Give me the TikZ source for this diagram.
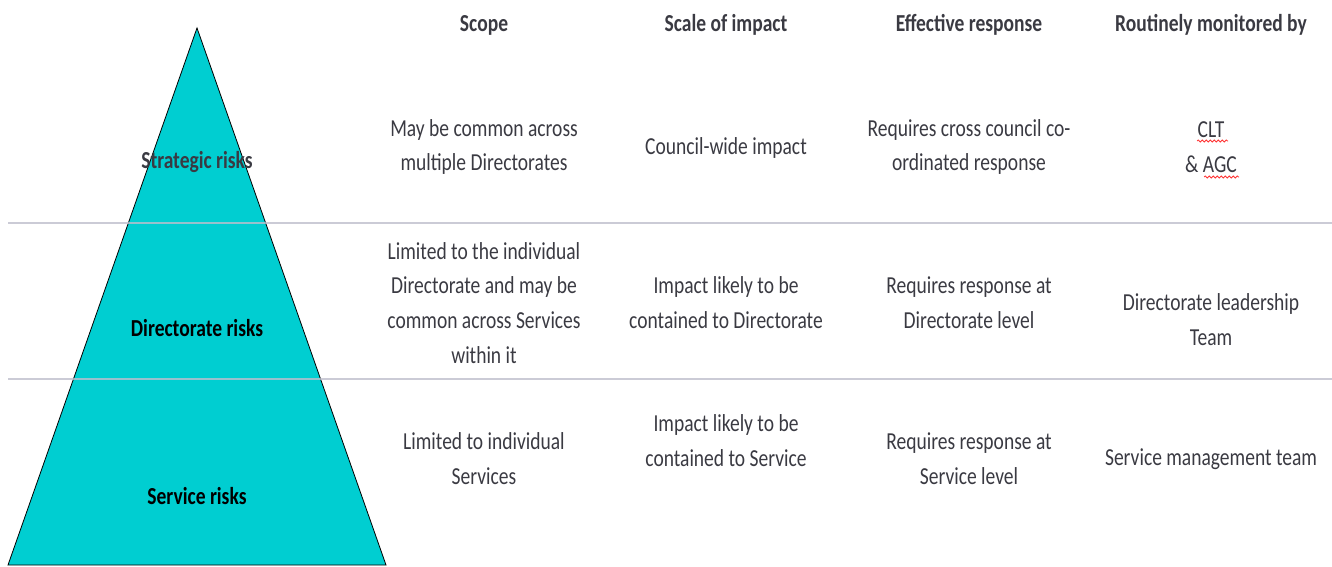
\documentclass[tikz,border=0pt]{standalone}
\usepackage{fontspec}
\setmainfont[FakeStretch=0.80]{Carlito}
\usetikzlibrary{decorations.pathmorphing}
\definecolor{turq}{RGB}{0,206,209}
\definecolor{txtgray}{RGB}{58,58,66}
\definecolor{rulegray}{RGB}{190,190,204}
\tikzset{
  txt/.style={align=center, inner sep=0pt, text=txtgray, font=\fontsize{24.4}{34.8}\selectfont},
  head/.style={txt, font=\fontsize{24.4}{34.8}\selectfont\bfseries},
  risk/.style={inner sep=0pt, font=\fontsize{24.4}{34.8}\selectfont\bfseries},
  sep/.style={draw=rulegray, line width=2pt, opacity=0.8},
  squig/.style={draw=red!80!white, line width=0.8pt, decorate, decoration={snake, amplitude=1pt, segment length=4pt}}
}
\begin{document}
\begin{tikzpicture}[x=1pt, y=-1pt]
\useasboundingbox (0,0) rectangle (1332,567);
% pyramid
\coordinate (apex) at (197,28);
\coordinate (bl) at (8,565);
\coordinate (br) at (386,565);
\fill[turq] (apex) -- (br) -- (bl) -- cycle;
\draw[black, line width=0.8pt] (apex) -- (br) -- (bl) -- cycle;
% separators
\coordinate (l1a) at (8,223); \coordinate (l1b) at (1332,223);
\coordinate (l2a) at (8,379); \coordinate (l2b) at (1332,379);
\draw[sep] (l1a) -- (l1b);
\draw[sep] (l2a) -- (l2b);
% risk labels
\node[risk, text=txtgray] (r1) at (197,162) {Strategic risks};
\node[risk, text=black] (r2) at (197,328) {Directorate risks};
\node[risk, text=black] (r3) at (197,496) {Service risks};
% headers
\node[head] (h1) at (484,25) {Scope};
\node[head] (h2) at (726,25) {Scale of impact};
\node[head] (h3) at (969,25) {Effective response};
\node[head] (h4) at (1211,25) {Routinely monitored by};
% row 1
\node[txt] (a1) at (484,147) {May be common across\\multiple Directorates};
\node[txt] (b1) at (726,148) {Council-wide impact};
\node[txt] (c1) at (969,147) {Requires cross council co-\\ordinated response};
\node[txt] (d1) at (1211,147) {CLT\\\& AGC};
\coordinate (sq1a) at (1197,141); \coordinate (sq1b) at (1228,141);
\coordinate (sq2a) at (1204,177); \coordinate (sq2b) at (1239,177);
\draw[squig] (sq1a) -- (sq1b);
\draw[squig] (sq2a) -- (sq2b);
% row 2
\node[txt] (a2) at (484,303) {Limited to the individual\\Directorate and may be\\common across Services\\within it};
\node[txt] (b2) at (726,303) {Impact likely to be\\contained to Directorate};
\node[txt] (c2) at (969,303) {Requires response at\\Directorate level};
\node[txt] (d2) at (1211,320) {Directorate leadership\\Team};
% row 3
\node[txt] (a3) at (484,459) {Limited to individual\\Services};
\node[txt] (b3) at (726,441) {Impact likely to be\\contained to Service};
\node[txt] (c3) at (969,459) {Requires response at\\Service level};
\node[txt] (d3) at (1211,459) {Service management team};
\end{tikzpicture}
\end{document}
